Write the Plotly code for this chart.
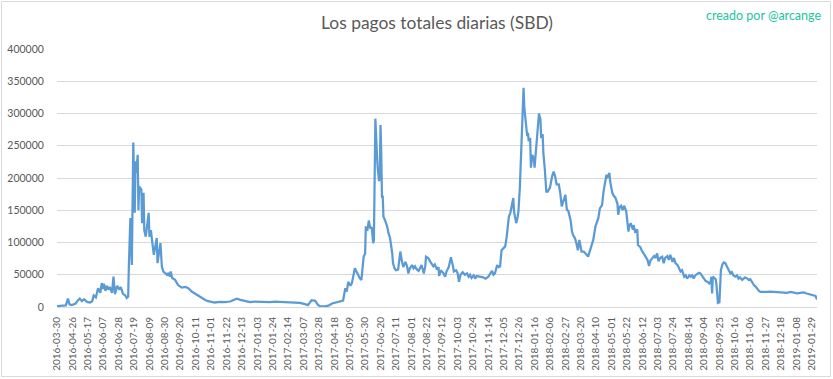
import plotly.graph_objects as go

# point number (day index in the series) and daily total payout (SBD)
dia = [
    0, 7, 12, 15, 17, 20, 25, 29, 31, 34, 37, 41, 45, 48, 50, 53, 56, 59, 61, 63,
    64, 66, 68, 70, 72, 75, 77, 79, 82, 85, 87, 90, 93, 95, 97, 98, 100, 102, 104, 106,
    107, 108, 110, 111, 112, 115, 116, 118, 119, 121, 123, 125, 126, 128, 130, 132, 134, 136, 137, 139,
    141, 143, 145, 147, 150, 152, 154, 155, 157, 161, 165, 170, 175, 179, 184, 188, 193, 197, 202, 206,
    211, 215, 222, 229, 236, 245, 250, 256, 263, 270, 277, 284, 290, 297, 304, 311, 318, 325, 331, 338,
    342, 347, 352, 356, 359, 365, 370, 375, 380, 386, 390, 393, 395, 397, 400, 402, 404, 406, 409, 411,
    413, 415, 418, 420, 421, 423, 425, 427, 429, 431, 432, 434, 435, 436, 437, 439, 440, 441, 442, 443,
    444, 445, 447, 450, 452, 454, 457, 458, 460, 462, 465, 466, 468, 470, 472, 475, 477, 479, 481, 484,
    486, 488, 490, 493, 495, 497, 500, 502, 503, 506, 509, 511, 513, 515, 518, 520, 521, 523, 527, 529,
    531, 534, 537, 540, 541, 544, 546, 548, 550, 553, 556, 559, 561, 563, 565, 568, 570, 572, 577, 581,
    584, 588, 593, 595, 597, 600, 602, 604, 606, 609, 611, 613, 616, 618, 620, 622, 623, 625, 626, 628,
    629, 631, 632, 633, 635, 636, 637, 639, 641, 642, 643, 645, 646, 648, 650, 651, 653, 655, 657, 659,
    660, 662, 663, 665, 667, 669, 671, 672, 675, 677, 679, 681, 684, 686, 688, 690, 693, 695, 697, 700,
    702, 704, 706, 708, 710, 712, 713, 715, 718, 720, 722, 724, 727, 729, 731, 734, 736, 738, 740, 743,
    745, 747, 749, 750, 753, 754, 757, 759, 761, 764, 765, 767, 769, 771, 773, 776, 777, 779, 780, 782,
    785, 786, 788, 791, 792, 795, 797, 800, 802, 805, 807, 809, 811, 814, 816, 818, 820, 822, 825, 827,
    829, 832, 834, 836, 839, 841, 843, 846, 848, 850, 852, 855, 857, 859, 862, 864, 866, 868, 870, 873,
    875, 877, 880, 882, 884, 887, 889, 891, 892, 893, 894, 896, 898, 899, 900, 901, 903, 904, 905, 907,
    909, 911, 913, 915, 918, 920, 922, 925, 927, 929, 931, 934, 936, 938, 941, 943, 945, 947, 950, 952,
    954, 957, 959, 963, 968, 973, 977, 982, 986, 991, 995, 1000, 1004, 1009, 1013, 1018, 1022, 1027, 1031, 1034,
    1036,
]

pagos = [
    1500, 2000, 2500, 13000, 4000, 3000, 5000, 11000, 13000, 9000, 12000, 8000, 7000, 9000, 18000, 15000, 29000, 22000, 37000, 28000,
    36000, 25000, 33000, 27000, 31000, 22000, 47000, 20000, 33000, 27000, 31000, 20000, 18000, 14000, 16000, 65000, 138000, 65000, 255000, 146000,
    226000, 208000, 236000, 150000, 187000, 182000, 130000, 177000, 119000, 109000, 125000, 146000, 109000, 119000, 99000, 81000, 94000, 107000, 68000, 84000,
    99000, 62000, 55000, 53000, 50000, 53000, 47000, 55000, 45000, 42000, 34000, 30000, 31000, 29000, 23500, 21000, 17000, 14000, 11000, 9000,
    7500, 7000, 8000, 7500, 8500, 13000, 11000, 9000, 7500, 8500, 8000, 8500, 7500, 8500, 8000, 8000, 7500, 7000, 6500, 4500,
    3000, 10500, 9500, 3000, 1000, 1000, 2000, 5500, 7000, 9000, 10000, 29000, 24000, 39000, 33000, 37000, 47000, 60000, 53000, 47000,
    44000, 42000, 78000, 83000, 125000, 118000, 134000, 122000, 124000, 99000, 104000, 292000, 249000, 239000, 218000, 195000, 200000, 282000, 239000, 169000,
    173000, 140000, 135000, 125000, 114000, 107000, 83000, 68000, 60000, 57000, 58000, 65000, 86000, 72000, 62000, 70000, 64000, 52000, 60000, 65000,
    60000, 63000, 59000, 56000, 61000, 65000, 52000, 63000, 78000, 76000, 70000, 67000, 63000, 66000, 58000, 62000, 48000, 57000, 52000, 47000,
    55000, 62000, 77000, 62000, 55000, 57000, 53000, 39000, 50000, 54000, 50000, 52000, 47000, 50000, 45000, 49000, 44000, 48000, 47000, 46000,
    44000, 47000, 56000, 50000, 52000, 65000, 62000, 63000, 88000, 92000, 94000, 109000, 140000, 146000, 158000, 169000, 148000, 138000, 130000, 140000,
    148000, 187000, 218000, 265000, 317000, 340000, 309000, 291000, 265000, 270000, 257000, 262000, 216000, 236000, 230000, 216000, 245000, 275000, 300000, 291000,
    262000, 268000, 239000, 213000, 179000, 179000, 182000, 185000, 203000, 210000, 203000, 190000, 190000, 177000, 156000, 165000, 174000, 151000, 149000, 135000,
    117000, 110000, 107000, 99000, 88000, 104000, 99000, 86000, 86000, 84000, 81000, 78000, 88000, 94000, 104000, 125000, 133000, 138000, 153000, 158000,
    179000, 195000, 205000, 200000, 208000, 195000, 177000, 172000, 170000, 160000, 143000, 155000, 157000, 150000, 157000, 148000, 140000, 117000, 125000, 130000,
    120000, 127000, 117000, 120000, 96000, 93000, 88000, 83000, 78000, 73000, 63500, 72000, 75000, 79000, 76000, 83000, 71000, 76000, 78000, 68000,
    76000, 79000, 73000, 81000, 70000, 76000, 68000, 65000, 60000, 55000, 57000, 47000, 49000, 44000, 49000, 47000, 49000, 44000, 49000, 52000,
    53000, 52000, 48000, 44000, 40500, 39000, 36500, 39000, 47000, 21000, 47000, 45000, 43000, 34000, 13000, 6500, 7500, 29000, 57000, 66000,
    69000, 68000, 63500, 58000, 52000, 54000, 49000, 47000, 49000, 44000, 46000, 42000, 44000, 46000, 44000, 42000, 43000, 39000, 34000, 32000,
    29000, 25000, 23500, 24000, 23500, 24000, 23500, 24000, 23500, 22000, 22000, 23500, 22000, 21000, 22000, 22500, 21000, 19000, 18000, 17000,
    11700,
]
assert len(dia) == len(pagos)

etiquetas = [
    "2016-03-30", "2016-04-26", "2016-05-17", "2016-06-07", "2016-06-28", "2016-07-19",
    "2016-08-09", "2016-08-30", "2016-09-20", "2016-10-11", "2016-11-01", "2016-11-22",
    "2016-12-13", "2017-01-03", "2017-01-24", "2017-02-14", "2017-03-07", "2017-03-28",
    "2017-04-18", "2017-05-09", "2017-05-30", "2017-06-20", "2017-07-11", "2017-08-01",
    "2017-08-22", "2017-09-12", "2017-10-03", "2017-10-24", "2017-11-14", "2017-12-05",
    "2017-12-26", "2018-01-16", "2018-02-06", "2018-02-27", "2018-03-20", "2018-04-10",
    "2018-05-01", "2018-05-22", "2018-06-12", "2018-07-03", "2018-07-24", "2018-08-14",
    "2018-09-04", "2018-09-25", "2018-10-16", "2018-11-06", "2018-11-27", "2018-12-18",
    "2019-01-08", "2019-01-29",
]
paso_etiqueta = 21
posiciones = [k * paso_etiqueta for k in range(len(etiquetas))]
y_ticks = [0, 50000, 100000, 150000, 200000, 250000, 300000, 350000, 400000]

W, H = 833, 379
ML, MR, MT, MB = 57, 16, 49, 72
FONT = "Lato, 'Liberation Sans', sans-serif"
GRIS = "#595959"

fig = go.Figure()
fig.add_trace(go.Scatter(
    x=dia, y=pagos, mode="lines",
    line=dict(color="#5B9BD5", width=2.25),
    hoverinfo="x+y", showlegend=False,
))

pw = W - ML - MR
ph = H - MT - MB
fig.add_shape(
    type="rect", xref="paper", yref="paper", layer="below",
    x0=-(ML - 1.5) / pw, x1=1 + (MR - 2.5) / pw,
    y0=-(MB - 2.5) / ph, y1=1 + (MT - 1.5) / ph,
    line=dict(color="#D9D9D9", width=1), fillcolor="rgba(0,0,0,0)",
)

fig.update_layout(
    width=W, height=H,
    margin=dict(l=ML, r=MR, t=MT, b=MB, pad=0, autoexpand=False),
    paper_bgcolor="white", plot_bgcolor="white",
    font=dict(family=FONT, color=GRIS),
    title=dict(
        text="Los pagos totales diarias (SBD)",
        x=0.5, xref="paper", xanchor="center",
        y=1 - 23 / H, yanchor="middle",
        font=dict(family=FONT, size=17.4, color=GRIS),
    ),
    annotations=[dict(
        text="creado por @arcange", xref="paper", yref="paper",
        x=1 + (MR - 10) / pw, y=1 + (MT - 15) / ph,
        xanchor="right", yanchor="middle", showarrow=False,
        font=dict(family=FONT, size=12.5, color="#22C4A0"),
    )],
    xaxis=dict(
        type="linear", range=[0, 1036], automargin=False,
        tickmode="array", tickvals=posiciones, ticktext=etiquetas,
        tickangle=-90, tickfont=dict(size=10, color=GRIS, family=FONT),
        showgrid=False, zeroline=False,
        showline=True, linecolor="#D9D9D9", linewidth=1,
        ticks="outside", ticklen=5, tickcolor="rgba(0,0,0,0)",
    ),
    yaxis=dict(
        range=[0, 400000], tickmode="array", tickvals=y_ticks, automargin=False,
        ticktext=[str(v) for v in y_ticks],
        tickfont=dict(size=10.5, color=GRIS, family=FONT),
        showgrid=True, gridcolor="#D9D9D9", gridwidth=1,
        zeroline=False, showline=False,
        ticks="outside", ticklen=10, tickcolor="rgba(0,0,0,0)",
    ),
)

fig.write_html("out.html")
